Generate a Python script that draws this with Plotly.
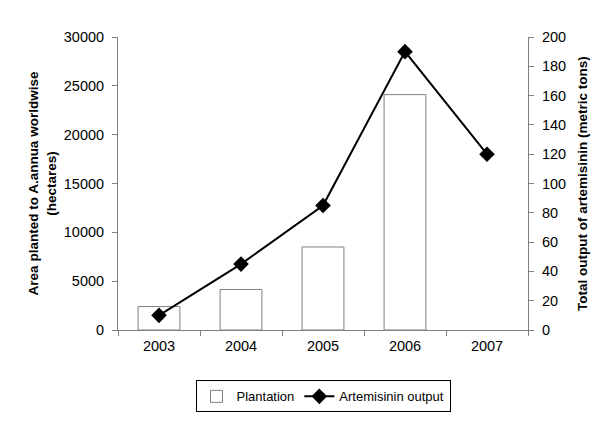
import plotly.graph_objects as go

years = ["2003", "2004", "2005", "2006", "2007"]
plantation = [2400, 4150, 8500, 24100, None]
artemisinin = [10, 45, 85, 190, 120]

fig = go.Figure()

fig.add_trace(go.Bar(
    x=years, y=plantation, name="Plantation",
    marker=dict(color="white", line=dict(color="#808080", width=1)),
    yaxis="y",
))

fig.add_trace(go.Scatter(
    x=years, y=artemisinin, name="Artemisinin output", mode="lines+markers",
    line=dict(color="black", width=2),
    marker=dict(symbol="diamond", size=12, color="black"),
    yaxis="y2",
))

tick_font = dict(family="Liberation Sans, Arial", size=14.5, color="black")
title_font = dict(family="Liberation Sans, Arial", size=13.5, color="black")

# page body has a default 8px margin, so the margins are shifted to compensate
fig.update_layout(
    width=600, height=428,
    margin=dict(l=110, r=80, t=29, b=106),
    plot_bgcolor="white", paper_bgcolor="white",
    font=tick_font,
    bargap=0.49,
    showlegend=True,
    legend=dict(
        orientation="h", x=0.5, xanchor="center", y=-0.172, yanchor="top",
        bordercolor="black", borderwidth=1,
        font=dict(family="Liberation Sans, Arial", size=13, color="black"),
        traceorder="normal",
    ),
    xaxis=dict(
        showline=True, linecolor="#808080", linewidth=1,
        ticks="outside", tickson="boundaries", ticklen=5, tickcolor="#808080",
        showgrid=False, tickfont=tick_font, automargin=False,
        ticklabelstandoff=3,
    ),
    yaxis=dict(
        range=[0, 30000], dtick=5000, tickformat="d",
        showline=True, linecolor="#808080", linewidth=1,
        ticks="outside", ticklen=5, tickcolor="#808080",
        showgrid=False, zeroline=False, tickfont=tick_font, automargin=False,
        ticklabelstandoff=5,
        title=dict(text="<b>Area planted to A.annua worldwise<br>(hectares)</b>",
                   font=title_font, standoff=4),
    ),
    yaxis2=dict(
        range=[0, 200], dtick=20, overlaying="y", side="right",
        showline=True, linecolor="#808080", linewidth=1,
        ticks="outside", ticklen=5, tickcolor="#808080",
        showgrid=False, zeroline=False, tickfont=tick_font, automargin=False,
        ticklabelstandoff=5,
        title=dict(text="<b>Total output of artemisinin (metric tons)</b>",
                   font=title_font, standoff=12),
    ),
)

fig.write_html("out.html")
